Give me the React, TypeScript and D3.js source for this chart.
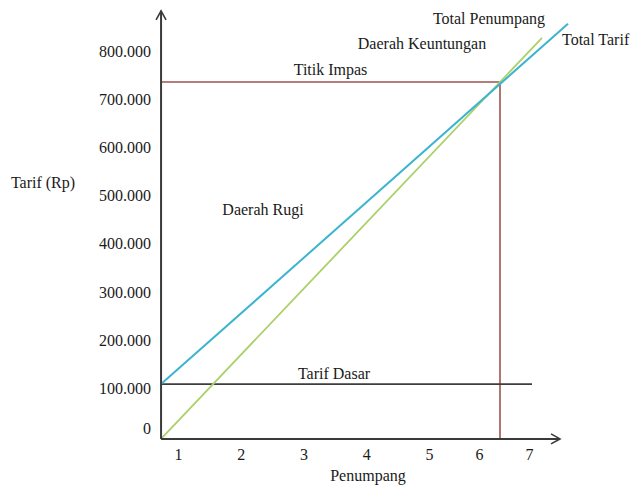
import * as d3 from 'd3';
import React, { useEffect, useRef } from 'react';

interface Pt {
  x: number;
  y: number;
}

// tick labels
const xTicks = [1, 2, 3, 4, 5, 6, 7];
const yTicks = [0, 100000, 200000, 300000, 400000, 500000, 600000, 700000, 800000];

// lines (x = penumpang, y = tarif)
const xStart = 0.73;
const yFloor = -6000;
const totalTarif: Pt[] = [
  { x: xStart, y: 108000 },
  { x: 7.78, y: 858000 },
];
const totalPenumpang: Pt[] = [
  { x: xStart, y: yFloor },
  { x: 7.26, y: 829000 },
];
const tarifDasar: Pt[] = [
  { x: xStart, y: 108000 },
  { x: 7.06, y: 108000 },
];
const titikImpas: Pt = { x: 6.42, y: 737000 };
const xArrowEnd = 7.62;
const yArrowEnd = 885000;

const width = 634;
const height = 486;
const font = "'Liberation Serif', serif";
const fontSize = '16px';

const App: React.FC = () => {
  const ref = useRef<SVGSVGElement>(null);
  useEffect(() => {
    const svg = d3.select(ref.current);
    svg.selectAll('*').remove();

    // the drawing spaces 5-6-7 tighter than 1-5
    const x = d3.scaleLinear().domain([1, 5, 6, 7]).range([178, 429, 479, 529]);
    const y = d3.scaleLinear().domain([0, 800000]).range([436, 51.7]);

    const axisColor = '#3a3a3a';
    const line = d3
      .line<Pt>()
      .x((d) => x(d.x))
      .y((d) => y(d.y));

    // y ticks
    const yAxis = svg
      .append('g')
      .attr('transform', `translate(${x(xStart)},0)`)
      .call(
        d3
          .axisLeft(y)
          .tickValues(yTicks)
          .tickSize(0)
          .tickPadding(10)
          .tickFormat((d: any) => (d === 0 ? '0' : d3.format(',')(d).replace(/,/g, '.')))
      );
    yAxis.select('.domain').remove();
    yAxis
      .selectAll('text')
      .style('font-family', font)
      .style('font-size', fontSize)
      .attr('fill', '#1a1a1a');
    yAxis.select('.tick:first-of-type text').attr('y', -8);

    // x ticks
    const xAxis = svg
      .append('g')
      .attr('transform', `translate(0,${y(yFloor)})`)
      .call(d3.axisBottom(x).tickValues(xTicks).tickSize(0).tickPadding(10).tickFormat(d3.format('d')));
    xAxis.select('.domain').remove();
    xAxis
      .selectAll('text')
      .style('font-family', font)
      .style('font-size', fontSize)
      .attr('fill', '#1a1a1a');

    // break-even guide lines
    const red = '#9c5550';
    svg
      .append('path')
      .datum([
        { x: xStart, y: titikImpas.y },
        titikImpas,
        { x: titikImpas.x, y: yFloor },
      ])
      .attr('fill', 'none')
      .attr('stroke', red)
      .attr('stroke-width', 1.6)
      .attr('d', line);

    // tarif dasar
    svg
      .append('path')
      .datum(tarifDasar)
      .attr('fill', 'none')
      .attr('stroke', '#3d3d3d')
      .attr('stroke-width', 1.6)
      .attr('d', line);

    svg
      .append('path')
      .datum(totalPenumpang)
      .attr('fill', 'none')
      .attr('stroke', '#acd06a')
      .attr('stroke-width', 1.8)
      .attr('d', line);

    svg
      .append('path')
      .datum(totalTarif)
      .attr('fill', 'none')
      .attr('stroke', '#3cb4cf')
      .attr('stroke-width', 2)
      .attr('d', line);

    // axes with open arrowheads
    const ox = x(xStart);
    const oy = y(yFloor);
    const ax = x(xArrowEnd);
    const ay = y(yArrowEnd);
    const axes = svg
      .append('g')
      .attr('fill', 'none')
      .attr('stroke', axisColor)
      .attr('stroke-width', 2);
    axes.append('path').attr('d', `M${ox},${oy}V${ay}`);
    axes.append('path').attr('d', `M${ox},${oy}H${ax}`);
    axes
      .append('path')
      .attr('stroke-width', 1.6)
      .attr('d', `M${ox - 5},${ay + 9}L${ox},${ay}L${ox + 5},${ay + 9}`);
    axes
      .append('path')
      .attr('stroke-width', 1.6)
      .attr('d', `M${ax - 9},${oy - 5}L${ax},${oy}L${ax - 9},${oy + 5}`);

    // annotations
    const label = (tx: number, ty: number, text: string, anchor = 'middle') =>
      svg
        .append('text')
        .attr('x', tx)
        .attr('y', ty)
        .attr('dy', '0.35em')
        .attr('text-anchor', anchor)
        .style('font-family', font)
        .style('font-size', fontSize)
        .attr('fill', '#1a1a1a')
        .text(text);

    label(489, 18, 'Total Penumpang');
    label(422, 43, 'Daerah Keuntungan');
    label(562, 39, 'Total Tarif', 'start');
    label((ox + x(titikImpas.x)) / 2, y(titikImpas.y) - 13, 'Titik Impas');
    label(263, 209, 'Daerah Rugi');
    label(334, y(tarifDasar[0].y) - 11, 'Tarif Dasar');
    label(43, 182, 'Tarif (Rp)');
    label(368, 475, 'Penumpang');
  }, []);
  return (
    <div className="chart-bep">
      <svg
        ref={ref}
        width={width}
        height={height}
        style={{ position: 'absolute', left: 0, top: 0, background: '#fff' }}
      ></svg>
    </div>
  );
};

export default App;
